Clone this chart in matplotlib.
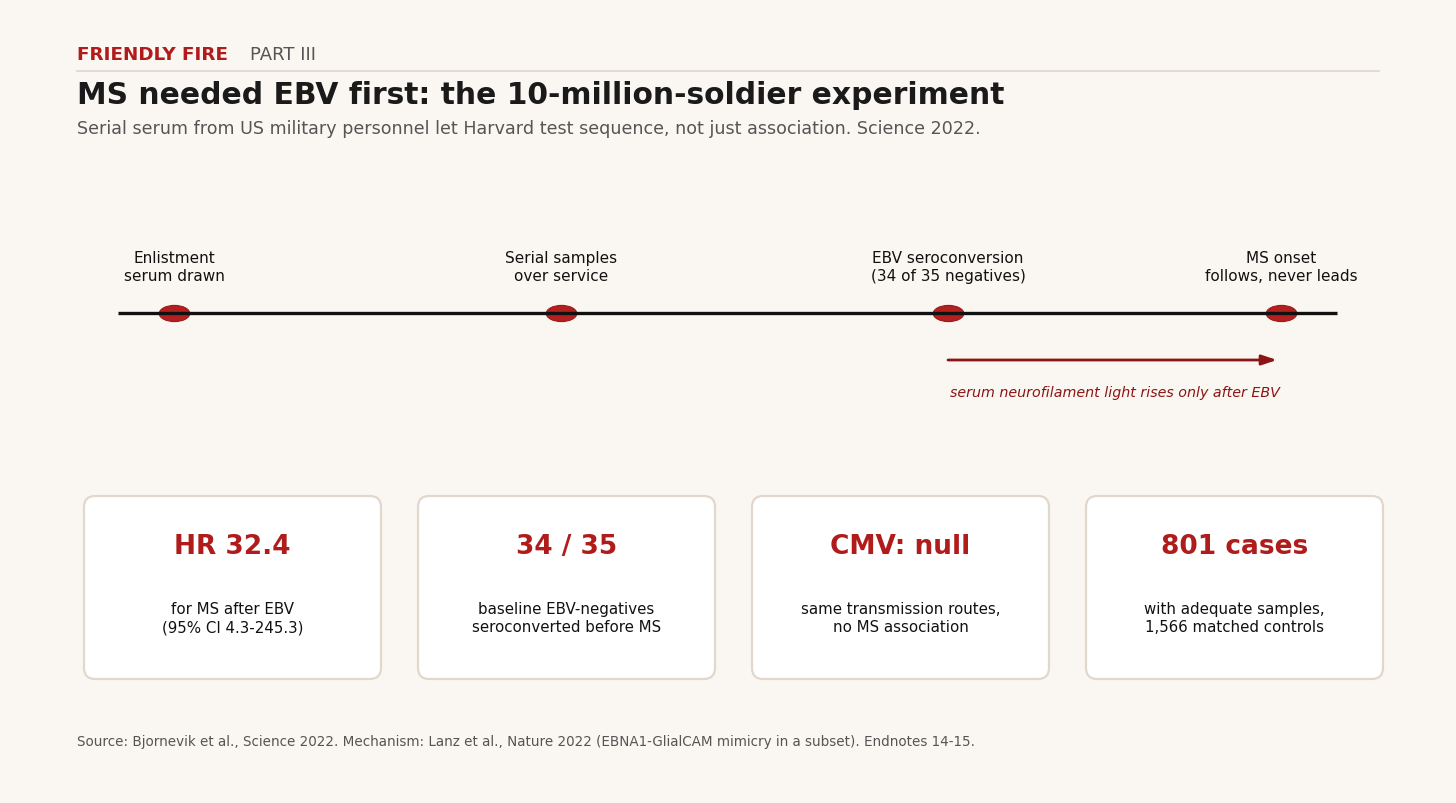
import matplotlib
matplotlib.use("Agg")
import matplotlib.pyplot as plt
from matplotlib.patches import FancyBboxPatch
from matplotlib.path import Path
from matplotlib.transforms import Affine2D

# --- chart content ---
kicker = "FRIENDLY FIRE"
part = "PART III"
title = "MS needed EBV first: the 10-million-soldier experiment"
subtitle = ("Serial serum from US military personnel let Harvard test sequence, "
            "not just association. Science 2022.")

event_labels = ["Enlistment\nserum drawn",
                "Serial samples\nover service",
                "EBV seroconversion\n(34 of 35 negatives)",
                "MS onset\nfollows, never leads"]
event_times = [0.0, 1.0, 2.0, 2.86]   # relative position along the timeline
arrow_span = (2.0, 2.85)
arrow_note = "serum neurofilament light rises only after EBV"

card_heads = ["HR 32.4", "34 / 35", "CMV: null", "801 cases"]
card_bodies = ["for MS after EBV\n(95% CI 4.3-245.3)",
               "baseline EBV-negatives\nseroconverted before MS",
               "same transmission routes,\nno MS association",
               "with adequate samples,\n1,566 matched controls"]

source = ("Source: Bjornevik et al., Science 2022. Mechanism: Lanz et al., Nature 2022 "
          "(EBNA1-GlialCAM mimicry in a subset). Endnotes 14-15.")

BG = "#faf7f2"
RED = "#b01c1c"
DARKRED = "#8b1414"
GREY = "#555555"
RULE = "#e2d7cd"

W, H = 1456, 804
fig = plt.figure(figsize=(W / 100, H / 100), dpi=100, facecolor=BG)

# page axes in pixel units
ax = fig.add_axes([0, 0, 1, 1])
ax.set_xlim(0, W)
ax.set_ylim(H, 0)
ax.axis("off")

ax.text(77, 55, kicker, fontsize=13.25, fontweight="bold", color=RED, va="center")
ax.text(250, 55, part, fontsize=13, color=GREY, va="center")
ax.plot([77, 1379], [72, 72], color=RULE, lw=1.3)
ax.text(77, 95, title, fontsize=21.4, fontweight="bold", color="#1a1a1a", va="center")
ax.text(77, 129, subtitle, fontsize=12.65, color=GREY, va="center")

# timeline axes: x in relative time units, y in pixels
px_per_unit = 387
x0 = 174
ax_t = fig.add_axes([0, 0, 1, 1])
ax_t.set_xlim(-x0 / px_per_unit, (W - x0) / px_per_unit)
ax_t.set_ylim(H, 0)
ax_t.axis("off")

line_y = 314
ellipse = Path.unit_circle().transformed(Affine2D().scale(1, 0.53))
ax_t.plot(event_times, [line_y] * len(event_times), ls="none", marker=ellipse,
          markersize=22, markerfacecolor="#b3201f", markeredgecolor="#9a1a1a",
          markeredgewidth=0.8, zorder=2)
ax_t.plot([event_times[0] - 0.145, event_times[-1] + 0.145], [line_y, line_y],
          color="#111111", lw=2.4, zorder=3, solid_capstyle="butt")
for t, lab in zip(event_times, event_labels):
    ax_t.text(t, 267.5, lab, fontsize=11, ha="center", va="center",
              color="#111111", linespacing=1.25)

ax_t.annotate("", xy=(arrow_span[1], 361), xytext=(arrow_span[0], 361),
              arrowprops=dict(arrowstyle="-|>,head_length=0.9,head_width=0.3",
                              color=DARKRED, lw=2.0, shrinkA=0, shrinkB=0))
ax_t.text(arrow_span[0] + 0.005, 393, arrow_note, fontsize=10.25, style="italic",
          color=DARKRED, ha="left", va="center")

# cards
card_w, card_h = 297, 183
card_gap = 37
card_x0, card_y0 = 84, 497
for i, (head, body) in enumerate(zip(card_heads, card_bodies)):
    cx = card_x0 + i * (card_w + card_gap)
    box = FancyBboxPatch((cx, card_y0), card_w, card_h,
                         boxstyle="round,pad=0,rounding_size=11",
                         facecolor="white", edgecolor=RULE, lw=1.6)
    ax.add_patch(box)
    ax.text(cx + card_w / 2, 547, head, fontsize=19, fontweight="bold",
            color=RED, ha="center", va="center")
    ax.text(cx + card_w / 2, 619, body, fontsize=10.85, color="#111111",
            ha="center", va="center", linespacing=1.25)

ax.text(77, 742, source, fontsize=9.75, color=GREY, va="center")

fig.savefig("out.png", dpi=100, facecolor=BG)
